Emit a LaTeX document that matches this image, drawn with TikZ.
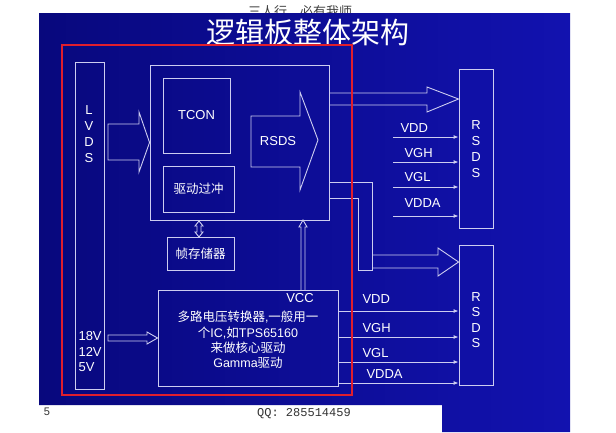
\documentclass[tikz,border=0pt]{standalone}
\usepackage{fontspec}
\setmainfont{Liberation Sans}
\newfontfamily\cjk{Noto Sans CJK SC}
\newfontfamily\qqfont{Liberation Mono}
\usetikzlibrary{arrows.meta}
\definecolor{slidedark}{RGB}{8,8,125}
\definecolor{slidelight}{RGB}{18,18,175}
\definecolor{edge}{RGB}{205,205,240}
\definecolor{frame}{RGB}{225,30,45}
\newcommand\zh[1]{{\cjk #1}}

\begin{document}
\begin{tikzpicture}[x=1pt,y=-1pt,
    box/.style={draw=edge,line width=0.9pt,inner sep=0pt},
    lbl/.style={text=white,font=\fontsize{13}{15}\selectfont},
    hollow/.style={draw=edge,line width=0.9pt,line join=miter},
    feed/.style={draw=edge,line width=0.9pt,-{Latex[length=5pt,width=4pt]}}]
  \useasboundingbox (0,0) rectangle (616,432);
  \fill[white] (0,0) rectangle (616,432);
  % page header, half hidden by the slide
  \node[text=black!75,font=\cjk\fontsize{13}{15}\selectfont] (motto) at (300,12) {三人行\quad 必有我师};
  \shade[left color=slidedark,right color=slidelight]
    (39,13) -- (570,13) -- (570,432) -- (442,432) -- (442,405) -- (39,405) -- cycle;
  \node[text=white,font=\cjk\fontsize{29}{31}\selectfont] (title) at (308,33) {逻辑板整体架构};

  % boxes
  \draw
    (89.5,225.5) node[box,minimum width=29pt,minimum height=327pt] (lvds){}
    (239.5,142.5) node[box,minimum width=179pt,minimum height=155pt] (core){}
    (196.5,115.5) node[box,minimum width=67pt,minimum height=75pt] (tcon){}
    (198.5,189) node[box,minimum width=71pt,minimum height=46pt] (drive){}
    (200.5,253.5) node[box,minimum width=67pt,minimum height=33pt] (frame){}
    (248,338) node[box,minimum width=180pt,minimum height=96pt] (multi){}
    (476,148.5) node[box,minimum width=34pt,minimum height=159pt] (rsdsA){}
    (476,315) node[box,minimum width=34pt,minimum height=140pt] (rsdsB){};

  % texts
  \node[lbl,align=center,font=\fontsize{13}{16}\selectfont] (lvdstxt) at (89,134) {L\\V\\D\\S};
  \node[lbl,align=left,anchor=west,font=\fontsize{13}{15.5}\selectfont] (volts) at (75,352) {18V\\12V\\5V};
  \node[lbl] (tcontxt) at (tcon) {TCON};
  \node[lbl,font=\cjk\fontsize{12.5}{15}\selectfont] (drivetxt) at (drive) {驱动过冲};
  \node[lbl,font=\cjk\fontsize{12.5}{15}\selectfont] (frametxt) at (frame) {帧存储器};
  \node[lbl,align=center,font=\fontsize{12.5}{15.3}\selectfont] (multitxt) at (248,340)
    {\zh{多路电压转换器},\zh{一般用一}\\\zh{个}IC,\zh{如}TPS65160\\\zh{来做核心驱动}\\Gamma\zh{驱动}};
  \node[lbl] (vcc) at (300,298) {VCC};
  \node[lbl,align=center,font=\fontsize{13}{16}\selectfont] (rsdsAtxt) at (476,149) {R\\S\\D\\S};
  \node[lbl,align=center,font=\fontsize{13}{15.5}\selectfont] (rsdsBtxt) at (476,320) {R\\S\\D\\S};

  % block arrows
  \draw[hollow] (108,124) -- (139,124) -- (139,112) -- (core.west) -- (139,172) -- (139,160) -- (108,160) -- cycle;
  \draw[hollow] (251,116) -- (300,116) -- (300,92) -- (318,140) -- (300,190) -- (300,167) -- (251,167) -- cycle;
  \node[lbl] (rsdsin) at (278,141) {RSDS};
  \draw[hollow] (core.east |- 0,93) -- (427,93) -- (427,87) -- (rsdsA.west |- 0,99) -- (427,112) -- (427,105) -- (core.east |- 0,105);
  \draw[hollow] (core.east |- 0,182) -- (372,182) -- (372,270) -- (358,270) -- (358,198) -- (core.east |- 0,198);
  \draw[hollow] (372,255) -- (438,255) -- (438,248) -- (rsdsB.west |- 0,262) -- (438,276) -- (438,268) -- (372,268);
  \draw[hollow] (108,335) -- (147,335) -- (147,332) -- (multi.west) -- (147,344) -- (147,341) -- (108,341) -- cycle;
  \draw[hollow] (199,221) -- (203,226) -- (201,226) -- (201,232) -- (203,232) -- (199,237) -- (195,232) -- (197,232) -- (197,226) -- (195,226) -- cycle;
  \draw[hollow] (301,290) -- (301,227) -- (299,227) -- (303,220) -- (307,227) -- (305,227) -- (305,290);

  % supply lines to the upper RSDS
  \foreach \y/\name/\t/\lx/\ly in {137/vddA/VDD/397/128, 162/vghA/VGH/401/153, 187/vglA/VGL/401/177, 216/vddaA/VDDA/401/203}{
    \coordinate (\name) at (393,\y);
    \draw[feed] (\name) -- (\name -| rsdsA.west);
    \node[lbl,anchor=west] (\name txt) at (\lx,\ly) {\t};
  }
  % supply lines to the lower RSDS
  \foreach \y/\name/\t/\lx/\ly in {311/vddB/VDD/359/299, 337/vghB/VGH/359/328, 362/vglB/VGL/359/353, 383/vddaB/VDDA/363/374}{
    \coordinate (\name) at (0,\y);
    \draw[feed] (multi.east |- \name) -- (rsdsB.west |- \name);
    \node[lbl,anchor=west] (\name txt) at (\lx,\ly) {\t};
  }

  % red outline
  \draw[frame,line width=2.6pt] (62,45) rectangle (352,395);

  % footer
  \node[text=black!80,font=\fontsize{11}{13}\selectfont\rmfamily] (pageno) at (47,412) {5};
  \node[text=black!80,font=\qqfont\fontsize{12}{14}\selectfont] (qq) at (304,414) {QQ: 285514459};
\end{tikzpicture}
\end{document}
